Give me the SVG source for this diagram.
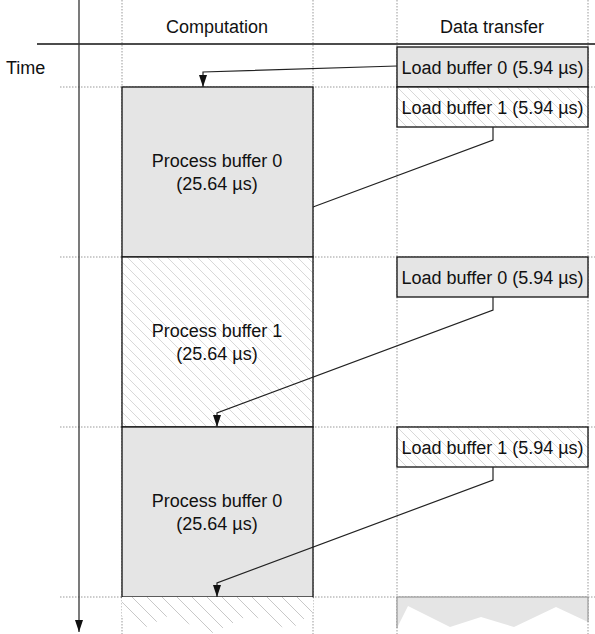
<svg xmlns="http://www.w3.org/2000/svg" width="595" height="634" viewBox="0 0 595 634">
<style>
text{font-family:"Liberation Sans",Arial,sans-serif;font-size:18px;fill:#111;}
.c{text-anchor:middle;}
.dot{stroke:#999;stroke-width:1;stroke-dasharray:1.5,1.5;fill:none;}
.box{stroke:#111;stroke-width:1.3;}
.gray{fill:#e5e5e5;}
.hatch{fill:url(#h);}
.conn{stroke:#222;stroke-width:1.2;fill:none;}
</style>
<defs>
<pattern id="h" patternUnits="userSpaceOnUse" width="10" height="10">
<rect width="10" height="10" fill="#fff"/>
<path d="M-2,8 L2,12 M0,0 L10,10 M8,-2 L12,2" stroke="#bdbdbd" stroke-width="0.6"/>
</pattern>
<pattern id="h2" patternUnits="userSpaceOnUse" width="15" height="15">
<rect width="15" height="15" fill="#fff"/>
<path d="M-2,13 L2,17 M0,0 L15,15 M13,-2 L17,2" stroke="#c8c8c8" stroke-width="1"/>
</pattern>
<marker id="arr2" viewBox="0 0 12 8" refX="12" refY="4" markerWidth="12" markerHeight="8" markerUnits="userSpaceOnUse" orient="auto">
<path d="M0,0 L12,4 L0,8 z" fill="#111"/>
</marker>
<clipPath id="zz">
<polygon points="122,597 313,597 313,612 290,630 250,615 210,634 170,615 140,630 122,616"/>
</clipPath>
</defs>
<g id="grid">
<line class="dot" x1="122" y1="0" x2="122" y2="634"/>
<line class="dot" x1="313" y1="0" x2="313" y2="634"/>
<line class="dot" x1="397" y1="0" x2="397" y2="634"/>
<line class="dot" x1="588" y1="0" x2="588" y2="634"/>
<line class="dot" x1="60" y1="87" x2="595" y2="87"/>
<line class="dot" x1="60" y1="257" x2="595" y2="257"/>
<line class="dot" x1="60" y1="427" x2="595" y2="427"/>
<line class="dot" x1="60" y1="597" x2="595" y2="597"/>
</g>
<g id="axes">
<line x1="37" y1="44" x2="595" y2="44" stroke="#111" stroke-width="1.3"/>
<line x1="79" y1="0" x2="79" y2="632" stroke="#333" stroke-width="1.3" marker-end="url(#arr2)"/>
<text x="217" y="33" class="c">Computation</text>
<text x="492" y="33" class="c">Data transfer</text>
<text x="6" y="74">Time</text>
</g>
<g id="proc0a">
<rect x="122" y="87" width="191" height="170" class="box gray"/>
<text x="217" y="167" class="c">Process buffer 0</text>
<text x="217" y="190" class="c">(25.64 µs)</text>
</g>
<g id="proc1">
<rect x="122" y="257" width="191" height="170" class="box hatch"/>
<text x="217" y="337" class="c">Process buffer 1</text>
<text x="217" y="360" class="c">(25.64 µs)</text>
</g>
<g id="proc0b">
<rect x="122" y="427" width="191" height="170" class="box gray"/>
<text x="217" y="507" class="c">Process buffer 0</text>
<text x="217" y="530" class="c">(25.64 µs)</text>
</g>
<g id="procNext">
<rect x="122" y="597" width="191" height="37" fill="url(#h2)" clip-path="url(#zz)"/>
</g>
<g id="load0a">
<rect x="397" y="47" width="191" height="40" class="box gray"/>
<text x="492.5" y="74" class="c">Load buffer 0 (5.94 µs)</text>
</g>
<g id="load1a">
<rect x="397" y="87" width="191" height="40" class="box hatch"/>
<text x="492.5" y="114" class="c">Load buffer 1 (5.94 µs)</text>
</g>
<g id="load0b">
<rect x="397" y="257" width="191" height="40" class="box gray"/>
<text x="492.5" y="284" class="c">Load buffer 0 (5.94 µs)</text>
</g>
<g id="load1b">
<rect x="397" y="427" width="191" height="40" class="box hatch"/>
<text x="492.5" y="454" class="c">Load buffer 1 (5.94 µs)</text>
</g>
<g id="loadNext">
<polygon points="397,597 588,597 588,622 556,607 514,627 481,617 450,627 408,606 397,628" fill="#e5e5e5"/>
<polyline points="397,628 397,597 588,597 588,622" fill="none" stroke="#888" stroke-width="1"/>
</g>
<g id="connectors">
<polyline class="conn" points="397,66 203,72 203,87" marker-end="url(#arr2)"/>
<polyline class="conn" points="493,127 493,140 313,207"/>
<polyline class="conn" points="493,297 493,310 217,413 217,427" marker-end="url(#arr2)"/>
<polyline class="conn" points="493,467 493,480 217,583 217,597" marker-end="url(#arr2)"/>
</g>
</svg>
